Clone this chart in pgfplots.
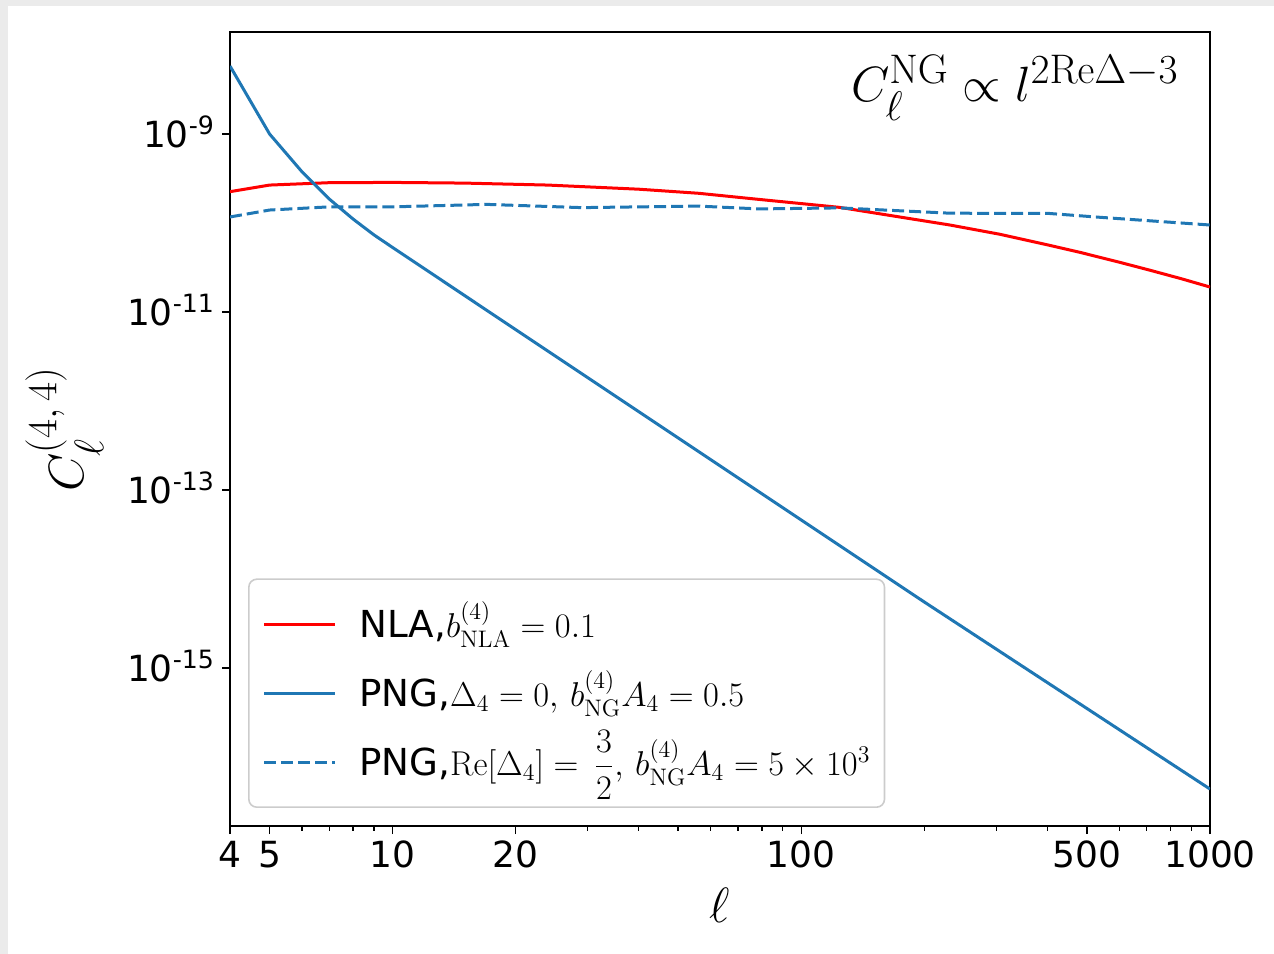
\documentclass[border=0pt]{standalone}
\usepackage{amsmath}
\usepackage[no-math]{fontspec}
\setmainfont{DejaVu Sans}
\usepackage{pgfplots}
\usepackage{pgfplotstable}
\pgfplotsset{compat=1.18}
\definecolor{tabblue}{HTML}{1F77B4}
\definecolor{framegray}{HTML}{EBEBEB}
\definecolor{leggray}{HTML}{CCCCCC}

\pgfplotstableread{
l C
4 2.25e-10
5 2.67e-10
7 2.84e-10
10 2.86e-10
15 2.81e-10
24 2.67e-10
40 2.40e-10
56 2.16e-10
80 1.83e-10
124 1.50e-10
231 9.5e-11
306 7.48e-11
400 5.69e-11
481 4.68e-11
600 3.63e-11
713 2.95e-11
850 2.37e-11
1000 1.91e-11
}\nla

\pgfplotstableread{
l C
4 5.81e-9
5 1.00e-9
6 3.77e-10
7 1.86e-10
8 1.11e-10
9 7.36e-11
10 5.31e-11
20 6.35e-12
50 3.84e-13
100 4.60e-14
200 5.52e-15
500 3.51e-16
1000 4.37e-17
}\pngA

\pgfplotstableread{
l C
4 1.17e-10
5 1.40e-10
7 1.52e-10
10 1.52e-10
17 1.62e-10
29 1.49e-10
56 1.55e-10
79 1.44e-10
124 1.48e-10
231 1.29e-10
405 1.28e-10
538 1.16e-10
1000 9.5e-11
}\pngB

\begin{document}
\begin{tikzpicture}
\useasboundingbox (-115bp,-64bp) rectangle (522bp,413bp);
\fill[framegray] (-115bp,-64bp) rectangle (-111bp,413bp);
\fill[framegray] (-115bp,410bp) rectangle (522bp,413bp);
\begin{axis}[
  scale only axis, width=490bp, height=397bp,
  xmode=log, ymode=log,
  xmin=4, xmax=1000, ymin=1.68e-17, ymax=1.40e-8,
  axis line style={line width=0.8bp},
  every tick/.style={black, line width=0.8bp},
  tick align=outside, tick pos=left,
  major tick length=4bp, minor tick length=2.3bp,
  xtick={4,5,10,20,100,500,1000},
  xticklabels={4,5,10,20,100,500,1000},
  minor xtick={6,7,8,9,30,40,50,60,70,80,90,200,300,400,600,700,800,900},
  ytick={1e-9,1e-11,1e-13,1e-15},
  yticklabels={10\textsuperscript{-9},10\textsuperscript{-11},10\textsuperscript{-13},10\textsuperscript{-15}},
  yminorticks=false,
  ticklabel style={font=\fontsize{18bp}{20bp}\selectfont},
  yticklabel style={anchor=base east, yshift=-6.5bp},
  xlabel={$\ell$}, ylabel={$C_\ell^{(4,\,4)}$},
  label style={font=\fontsize{28bp}{31bp}\selectfont},
  xlabel style={at={(axis description cs:0.5,-0.0995)}, anchor=center},
  ylabel style={at={(axis description cs:-0.169,0.5)}, anchor=center},
  legend cell align=left,
  legend image code/.code={\draw[#1] (0bp,0bp) -- (35.5bp,0bp); \path[draw=none] (0bp,0bp) -- (47.5bp,0bp);},
  legend style={at={(axis description cs:0.0184,0.0227)}, anchor=south west,
    draw=leggray, fill=white, fill opacity=0.8, draw opacity=1, text opacity=1,
    rounded corners=4bp, line width=0.8bp, inner xsep=7bp, inner ysep=5.25bp,
    row sep=0bp, font=\fontsize{18.6bp}{21bp}\selectfont,
    nodes={inner xsep=0bp, inner ysep=0bp, text height=23.85bp, text depth=10.65bp, anchor=west}},
]
\addplot[red, line width=1.5bp, line join=round] table[x=l,y=C] {\nla};
\addlegendentry{NLA,$b_{\mathrm{NLA}}^{(4)}=0.1$}
\addplot[tabblue, line width=1.5bp, line join=round] table[x=l,y=C] {\pngA};
\addlegendentry{PNG,$\Delta_4=0,\, b_{\mathrm{NG}}^{(4)}A_4=0.5$}
\addplot[tabblue, line width=1.5bp, dash pattern=on 6bp off 2.5bp] table[x=l,y=C] {\pngB};
\addlegendentry{PNG,$\mathrm{Re}[\Delta_4]=\,\dfrac{3}{2},\, b_{\mathrm{NG}}^{(4)}A_4=5\times10^3$}
\node[anchor=base east, font=\fontsize{29bp}{32bp}\selectfont] at (axis description cs:0.975,0.912) {$C_\ell^{\mathrm{NG}}\propto l^{2\mathrm{Re}\Delta-3}$};
\end{axis}
\end{tikzpicture}
\end{document}
